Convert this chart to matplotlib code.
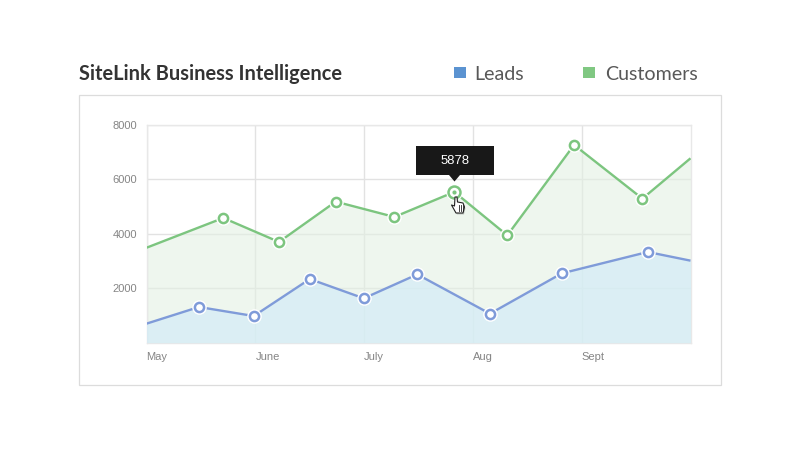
import matplotlib
matplotlib.use("Agg")
import matplotlib.pyplot as plt
from matplotlib.patches import Rectangle, Polygon
from matplotlib.transforms import Affine2D

title = "SiteLink Business Intelligence"
series_names = ["Leads", "Customers"]
month_labels = ["May", "June", "July", "Aug", "Sept"]
month_pos = [0, 1, 2, 3, 4]
y_ticks = [2000, 4000, 6000, 8000]
tooltip_value = "5878"

leads_x = [0, 0.482, 0.986, 1.501, 1.997, 2.489, 3.157, 3.817, 4.607, 5]
leads_y = [700, 1312, 980, 2340, 1630, 2510, 1066, 2548, 3334, 3015]
cust_x = [0, 0.706, 1.218, 1.739, 2.278, 2.829, 3.316, 3.930, 4.558, 5]
cust_y = [3490, 4584, 3702, 5184, 4621, 5540, 3945, 7268, 5294, 6776]
active_index = 5

GREEN = "#7cc57f"
BLUE = "#7f9bd9"
W, H = 800, 450

fig = plt.figure(figsize=(8, 4.5), dpi=100, facecolor="white")
px = Affine2D().scale(1 / W, -1 / H).translate(0, 1) + fig.transFigure

fig.patches.append(Rectangle((79, 95), 642, 290, transform=px, fc="white", ec="#dcdcdc", lw=0.9, zorder=-5))

ax = fig.add_axes([146.5 / W, 1 - 342.7 / H, 544 / W, 217.7 / H])
ax.set_xlim(0, 5)
ax.set_ylim(0, 8000)
ax.set_facecolor("white")
for s in ax.spines.values():
    s.set_color("#e8e8e8")
    s.set_linewidth(1)
ax.set_xticks(month_pos, month_labels)
ax.set_yticks(y_ticks)
ax.tick_params(length=0, labelcolor="#858585", labelsize=8)
ax.tick_params(axis="x", pad=7)
ax.tick_params(axis="y", pad=6.5)
for lab in ax.get_xticklabels() + ax.get_yticklabels():
    lab.set_family("Liberation Sans")
for lab in ax.get_xticklabels():
    lab.set_ha("left")
ax.grid(True, color="#e2e2e2", lw=1, zorder=1)
ax.set_axisbelow(True)

ax.fill_between(cust_x, cust_y, 0, color="#e3f0e3", alpha=0.6, lw=0, zorder=2)
ax.fill_between(leads_x, leads_y, 0, color="#d3ecf7", alpha=0.7, lw=0, zorder=3)

for xs, ys, c, z in [(cust_x, cust_y, GREEN, 4), (leads_x, leads_y, BLUE, 6)]:
    ax.plot(xs, ys, color=c, lw=1.7, zorder=z, solid_capstyle="butt")
    ax.plot(xs[1:-1], ys[1:-1], ls="none", marker="o", ms=10.5, mfc="white", mec="white", mew=0, zorder=z + 0.5)
    ax.plot(xs[1:-1], ys[1:-1], ls="none", marker="o", ms=6.6, mfc="white", mec=c, mew=1.8, zorder=z + 0.6)

ax.plot(cust_x[active_index], cust_y[active_index], marker="o", ms=12, mfc="white", mec="white", mew=0, zorder=8)
ax.plot(cust_x[active_index], cust_y[active_index], marker="o", ms=8.6, mfc="white", mec=GREEN, mew=1.8, zorder=8.1)
ax.plot(cust_x[active_index], cust_y[active_index], marker="o", ms=3, mfc=GREEN, mew=0, zorder=8.2)

# header
fig.text(79 / W, 1 - 73.5 / H, title, fontsize=14.45, fontweight="bold", family="Lato", color="#333333", va="center", ha="left")
fig.patches.append(Rectangle((454, 67), 12, 11, transform=px, fc="#5b93d1", ec="none"))
fig.patches.append(Rectangle((583, 67), 12, 11, transform=px, fc="#80c882", ec="none"))
fig.text(474 / W, 1 - 74 / H, series_names[0], fontsize=14.1, family="Lato", color="#585858", va="center", ha="left")
fig.text(605 / W, 1 - 74 / H, series_names[1], fontsize=14.1, family="Lato", color="#585858", va="center", ha="left")

# tooltip
fig.patches.append(Rectangle((416, 146), 77.5, 29, transform=px, fc="#181818", ec="none", zorder=20))
fig.patches.append(Polygon([(449, 175), (460, 175), (454.5, 181.5)], transform=px, fc="#181818", ec="none", zorder=20))
fig.text(455 / W, 1 - 160.5 / H, tooltip_value, fontsize=9.4, family="Liberation Sans", color="white", va="center", ha="center", zorder=21)

# pointer hand
hand = [(455, 197), (457, 197), (457.5, 202), (463, 203), (464.5, 207), (463, 213), (456, 213), (451.5, 205), (454.5, 206)]
fig.patches.append(Polygon([(x + 1, y + 1.5) for x, y in hand], transform=px, fc="#00000030", ec="none", zorder=22))
fig.patches.append(Polygon(hand, transform=px, fc="white", ec="#222222", lw=0.8, zorder=23, joinstyle="round"))
for x0 in (458.5, 460.5, 462.5):
    fig.add_artist(plt.Line2D([x0, x0], [205, 210.5], transform=px, color="#222222", lw=0.6, zorder=24))

fig.savefig("out.png", dpi=100, facecolor="white")
